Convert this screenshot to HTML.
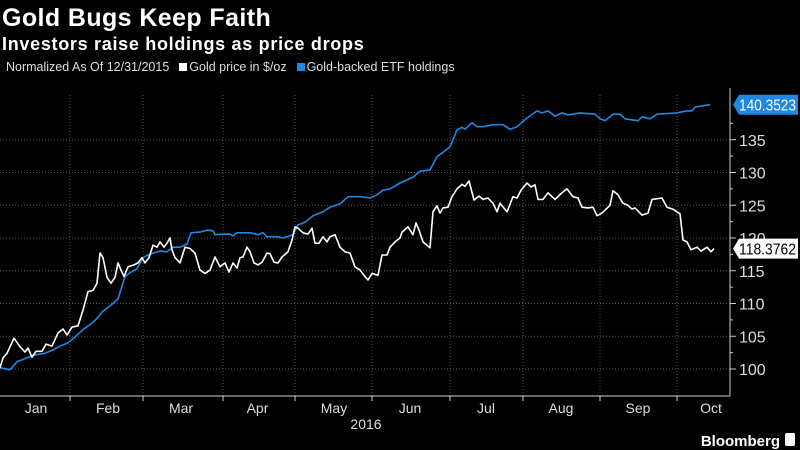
<!DOCTYPE html>
<html><head><meta charset="utf-8"><style>
body{margin:0;background:#000;width:800px;height:450px;overflow:hidden;font-family:"Liberation Sans",sans-serif;color:#fff}
#t{position:absolute;left:2px;top:4px;font-size:25px;font-weight:bold;letter-spacing:0.4px}
#s{position:absolute;left:2px;top:34px;font-size:18px;font-weight:bold;letter-spacing:0.7px}
#lg{position:absolute;left:6px;top:60px;font-size:12.5px;color:#ddd;letter-spacing:0px}
#lg span.sq{display:inline-block;width:8px;height:8px;margin:0 2px 0 10px}
svg{position:absolute;left:0;top:0}
</style></head><body>
<div id="t">Gold Bugs Keep Faith</div>
<div id="s">Investors raise holdings as price drops</div>
<div id="lg"><span>Normalized As Of 12/31/2015</span><span class="sq" style="background:#fff"></span><span>Gold price in $/oz</span><span class="sq" style="background:#1e88e5"></span><span>Gold-backed ETF holdings</span></div>
<svg id="c" width="800" height="450"></svg>
<script>
const goldDays=[0,1.2,2.8,5.6,8,10,11.2,12.8,14.4,16.8,18.4,20.8,23.2,25.2,26.8,28.8,31.2,33.2,35.2,37.2,38.8,40,41.2,42.8,44.4,46,47.2,48.4,49.6,51.2,53.6,55.2,56.8,58,59.6,61.2,62.8,64,65.6,66.8,68,68.8,70,72,74,76,78,80,82,84,86,88,90,91.6,93.2,94.8,96,97.2,98.8,100,101.6,103.2,104.8,106.8,108,109.6,111.2,112.8,115.2,116.8,118,119.2,121.2,123.2,124.8,126,127.6,129.2,130.8,132,134,136,138,140,142,144,146,147.2,148.8,151.2,152.8,154.8,156,158,160,160.8,163.2,165.2,166.4,167.6,169.2,172,173.2,174.8,176,177.2,179.2,180.8,182.8,184.8,186,187.6,189.6,191.6,193.2,195.2,197.2,198.8,200,202.8,205.2,206.8,208.4,210.8,212.4,214,215.2,217.2,219.2,222,224.8,226.8,229.2,231.2,232.8,235.2,237.2,238.8,240.8,244,245.2,247.2,249.2,251.2,252.8,254,256.8,259.2,260.8,264.8,266.8,269.2,272,273.2,274.8,276.4,278.8,280.4,282.8,284.4,285.6];
const goldVals=[100.2,101.7,102.4,104.7,103.4,102.6,103.2,101.8,102.7,102.7,103.8,103.5,105.5,106.1,105.2,106.4,106.6,109,111.8,112,113.1,117.7,117,114,113.1,114,116.2,115.1,114.1,115.6,115.9,116.2,117,116.2,117,118.9,118.6,119.4,118.6,119.2,120,118.2,117,116.2,118.6,118.4,117.7,115.1,114.6,115.1,117.1,115.6,116.2,114.8,116.2,115.4,117,117.1,118.6,117.9,116.2,115.9,116.3,117.7,117.6,116.3,116.2,117.1,117.9,119.7,121.7,121.5,120.8,120.6,121.5,119.2,119.2,120.2,119.4,120.2,120.5,118.6,117.9,117.7,115.6,115.1,114.1,113.6,114.6,114.3,117.4,117.4,118.6,119.4,120,120.9,121.7,120.5,122.3,121.2,119.4,118.5,124,124.9,123.8,124.6,124.7,126.3,127.5,128.2,127.9,128.7,125.8,126.4,125.9,126.1,125.3,124,125.3,124,126.3,126.1,127.3,128.4,127.8,128.1,125.9,125.9,126.9,125.9,126.9,127.5,126.3,126.1,124.7,124.6,124.7,123.4,123.8,125,127.2,126.6,125.3,125,124.4,124.6,123.5,123.8,125.9,126.1,124.7,124.4,123.7,119.7,119.4,118.2,118.6,118,118.6,117.9,118.3762];
const etfDays=[0,4,6.8,10.8,13.2,18,21.2,24,27.2,30,33.2,36.8,39.2,40.8,45.2,47.2,50,52,54.8,57.2,59.2,61.2,64,66.8,69.2,72,74.8,76.4,80,82.8,85.2,86,90,92,93.2,94.8,100,103.2,105.2,106.8,110.8,113.2,117.2,119.2,122,125.2,129.2,132,136,139.2,141.2,144,148,150.8,153.2,156,160,165.2,168,172,174.8,177.2,180,182.8,184.8,186,188.8,190.8,193.2,197.2,201.2,204,206.8,210.8,214.8,216.8,219.2,222,224.8,227.2,232,238,240,242,245.2,248,250,255.2,256.8,260,262.8,270.8,274.8,276.8,278,284];
const etfVals=[100.2,99.9,101.1,101.7,102.1,102.4,102.9,103.5,104,104.9,106,107,107.9,108.7,110,110.7,114.1,114.7,115.3,117,117.4,117.7,118,117.9,118.6,118.6,119.1,120.8,120.9,121.2,121.1,120.5,120.6,120.6,120.3,120.8,120.8,120.5,120.8,120.2,120.2,120,120.5,122,122.4,123.4,124,124.7,125.2,126.3,126.3,126.3,126.1,126.6,127.3,127.5,128.4,129.3,130.2,130.4,132.4,133.1,133.9,136.5,136.9,136.6,137.6,137,137,137.3,137.3,136.6,137,138.3,139.4,139.1,139.4,138.6,139.1,138.8,139.1,138.9,138.2,137.9,138.9,138.9,138.2,137.9,138.5,138.2,138.9,139.1,139.4,139.4,140,140.3523];
const yTicks=[100,105,110,115,120,125,130,135];
const monthBounds=[28,57.2,89.2,118,148.8,180,209.2,240,270.8];
const monthLabels=['Jan','Feb','Mar','Apr','May','Jun','Jul','Aug','Sep','Oct'];
const monthMids=[14.4,43.2,72.4,103,133.6,164,194.4,224.4,255.2,284.4];
const lastGold='118.3762', lastEtf='140.3523';

const NS='http://www.w3.org/2000/svg';
const svg=document.getElementById('c');
const X=d=>d*2.5;
const Y=v=>369-(v-100)*6.55;
const AX=730, AY=396;
function mk(tag,attrs,parent){const e=document.createElementNS(NS,tag);for(const k in attrs)e.setAttribute(k,attrs[k]);(parent||svg).appendChild(e);return e;}

yTicks.forEach(v=>{
  const g=mk('line',{x1:0,x2:AX,y1:Y(v),y2:Y(v),stroke:'#555','stroke-dasharray':'1,2'});
  
  
  const t=mk('line',{x1:AX,x2:AX+6,y1:Y(v),y2:Y(v),stroke:'#ccc'});
  
  
  const l=mk('text',{x:AX+9,y:Y(v)+6,fill:'#ddd','font-size':'16'});
  l.textContent=v;
  
  
});
for(let v=102.5;v<=140;v+=5){
  const t=mk('line',{x1:AX,x2:AX+3,y1:Y(v),y2:Y(v),stroke:'#ccc'});
  
  
}
monthBounds.forEach(d=>{
  const g=mk('line',{x1:X(d),x2:X(d),y1:95,y2:AY,stroke:'#555','stroke-dasharray':'1,2'});
  
  
  const t=mk('line',{x1:X(d),x2:X(d),y1:AY,y2:AY+5,stroke:'#ccc'});
  
  
});
monthLabels.forEach((m,i)=>{
  const l=mk('text',{x:X(monthMids[i]),y:413,fill:'#ddd','font-size':'14','text-anchor':'middle'});
  l.textContent=m;
  
  
});
const yr=mk('text',{x:366,y:429,fill:'#ddd','font-size':'14','text-anchor':'middle'});
yr.textContent='2016';


const xa=mk('line',{x1:0,x2:AX,y1:AY,y2:AY,stroke:'#ccc'});


const ya=mk('line',{x1:AX,x2:AX,y1:88,y2:AY,stroke:'#ccc'});



function line(days,vals,col,name){
  const p=mk('polyline',{points:days.map((d,i)=>X(d).toFixed(1)+','+Y(vals[i]).toFixed(1)).join(' '),fill:'none',stroke:col,'stroke-width':'1.6','stroke-linejoin':'round'});
  
  
}
line(etfDays,etfVals,'#1e88e5','etf-holdings-line');
line(goldDays,goldVals,'#ffffff','gold-price-line');

function tag(v,txt,bg,fg,name){
  const y=Y(v);
  const g=mk('g',{});
  
  
  mk('path',{d:`M${AX+3},${y} L${AX+9},${y-10} L798,${y-10} L798,${y+10} L${AX+9},${y+10} Z`,fill:bg},g);
  const t=mk('text',{x:AX+9,y:y+6,fill:fg,'font-size':'16',textLength:'57',lengthAdjust:'spacingAndGlyphs'},g);
  t.textContent=txt;
}
tag(etfVals[etfVals.length-1],lastEtf,'#1e88e5','#fff','etf-last-value-tag');
tag(goldVals[goldVals.length-1],lastGold,'#fff','#000','gold-last-value-tag');

const bb=mk('text',{x:780,y:446,fill:'#fff','font-size':'15','font-weight':'bold','text-anchor':'end'});
bb.textContent='Bloomberg';


const ic=mk('rect',{x:785,y:433,width:10,height:13,rx:2,fill:'#fff'});


</script>
</body></html>
